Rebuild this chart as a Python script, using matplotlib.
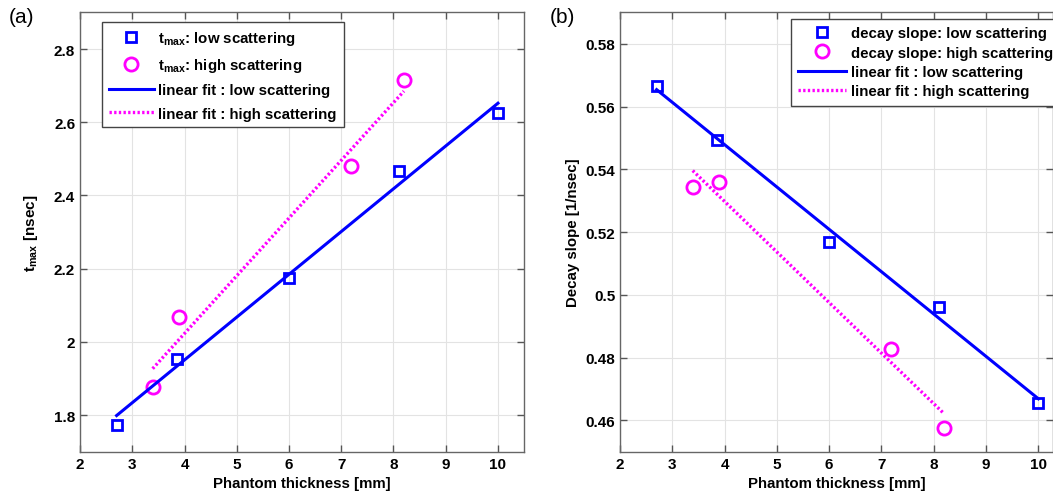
import matplotlib
matplotlib.use('Agg')
import matplotlib.pyplot as plt

plt.rcParams['font.family'] = 'Liberation Sans'
plt.rcParams['font.weight'] = 'bold'
plt.rcParams['mathtext.fontset'] = 'custom'
plt.rcParams['mathtext.rm'] = 'Liberation Sans:bold'
plt.rcParams['mathtext.bf'] = 'Liberation Sans:bold'
plt.rcParams['mathtext.it'] = 'Liberation Sans:bold'

# panel (a): t_max
thick_low = [2.7, 3.85, 6.0, 8.1, 10.0]
tmax_low = [1.772, 1.954, 2.175, 2.468, 2.625]
thick_high = [3.39, 3.89, 7.19, 8.2]
tmax_high = [1.876, 2.068, 2.481, 2.715]
fit_a_low_x = [2.7, 10.0]
fit_a_low_y = [1.799, 2.652]
fit_a_high_x = [3.39, 8.2]
fit_a_high_y = [1.927, 2.685]

# panel (b): decay slope
slope_low = [0.5667, 0.5494, 0.5167, 0.4961, 0.4655]
slope_high = [0.5345, 0.5361, 0.4828, 0.4577]
fit_b_low_x = [2.7, 10.0]
fit_b_low_y = [0.5654, 0.4669]
fit_b_high_x = [3.39, 8.2]
fit_b_high_y = [0.5396, 0.4621]

xticks = [2, 3, 4, 5, 6, 7, 8, 9, 10]

fig = plt.figure(figsize=(10.53, 5.02), dpi=100)
ax1 = fig.add_axes([0.076, 0.098, 0.4217, 0.8753])
ax2 = fig.add_axes([0.5888, 0.098, 0.4112, 0.8753])

blue = (0, 0, 1)
mag = (1, 0, 1)
dots = (0, (0.7, 0.7))


def style(ax):
    ax.grid(True, color='#e3e3e3', linewidth=0.8)
    ax.set_axisbelow(True)
    ax.tick_params(direction='in', length=5, top=True, right=True,
                   labelsize=11, colors='#555555', labelcolor='black', width=1)
    for s in ax.spines.values():
        s.set_color('#666666')
        s.set_linewidth(1)
    ax.set_xticks(xticks)
    ax.set_xlabel('Phantom thickness [mm]', fontsize=10.8, fontweight='bold')


ax1.plot(thick_low, tmax_low, 's', mfc='none', mec=blue, ms=7.5, mew=2,
         label=r'$\mathregular{t_{max}}$: low scattering')
ax1.plot(thick_high, tmax_high, 'o', mfc='none', mec=mag, ms=9.5, mew=2,
         label=r'$\mathregular{t_{max}}$: high scattering')
ax1.plot(fit_a_low_x, fit_a_low_y, '-', color=blue, lw=2.2,
         label='linear fit : low scattering')
ax1.plot(fit_a_high_x, fit_a_high_y, linestyle=dots, color=mag, lw=2.4,
         label='linear fit : high scattering')
ax1.set_xlim(2, 10.5)
ax1.set_ylim(1.7, 2.9)
ax1.set_yticks([1.8, 2.0, 2.2, 2.4, 2.6, 2.8])
ax1.set_yticklabels(['1.8', '2', '2.2', '2.4', '2.6', '2.8'])
style(ax1)
ax1.set_ylabel(r'$\mathregular{t_{max}}$ [nsec]', fontsize=11, fontweight='bold',
               labelpad=10)
leg1 = ax1.legend(loc='upper left', bbox_to_anchor=(0.05, 0.978), fontsize=10.8,
                  fancybox=False, framealpha=1, edgecolor='#444444',
                  handlelength=3.0, borderpad=0.45, labelspacing=0.62,
                  handletextpad=0.3, borderaxespad=0)
leg1.get_frame().set_linewidth(1)

ax2.plot(thick_low, slope_low, 's', mfc='none', mec=blue, ms=7.5, mew=2,
         label='decay slope: low scattering')
ax2.plot(thick_high, slope_high, 'o', mfc='none', mec=mag, ms=9.5, mew=2,
         label='decay slope: high scattering')
ax2.plot(fit_b_low_x, fit_b_low_y, '-', color=blue, lw=2.2,
         label='linear fit : low scattering')
ax2.plot(fit_b_high_x, fit_b_high_y, linestyle=dots, color=mag, lw=2.4,
         label='linear fit : high scattering')
ax2.set_xlim(2, 10.28)
ax2.set_ylim(0.45, 0.59)
ax2.set_yticks([0.46, 0.48, 0.5, 0.52, 0.54, 0.56, 0.58])
ax2.set_yticklabels(['0.46', '0.48', '0.5', '0.52', '0.54', '0.56', '0.58'])
style(ax2)
ax2.set_ylabel('Decay slope [1/nsec]', fontsize=10.8, fontweight='bold')
leg2 = ax2.legend(loc='upper left', bbox_to_anchor=(0.394, 0.985), fontsize=10.8,
                  fancybox=False, framealpha=1, edgecolor='#444444',
                  handlelength=3.2, borderpad=0.5, labelspacing=0.35,
                  handletextpad=0.3, borderaxespad=0)
leg2.get_frame().set_linewidth(1)

fig.text(0.008, 0.955, '(a)', fontsize=15, fontweight='normal')
fig.text(0.522, 0.955, '(b)', fontsize=15, fontweight='normal')

fig.savefig('out.png', dpi=100)
